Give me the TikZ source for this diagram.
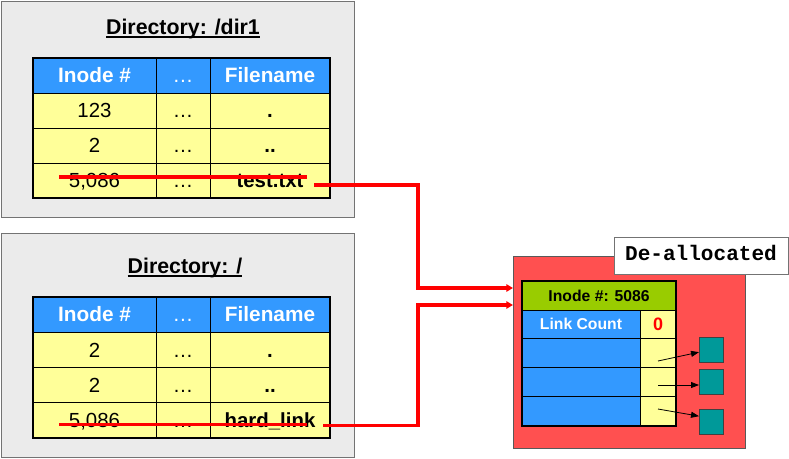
\documentclass[tikz,border=0pt]{standalone}
\usepackage{fontspec}
\setmainfont{Liberation Sans}
\setmonofont{Liberation Mono}
\usetikzlibrary{arrows.meta}
\definecolor{dirgray}{HTML}{EBEBEB}
\definecolor{hdrblue}{HTML}{3399FF}
\definecolor{rowyellow}{HTML}{FFFF99}
\definecolor{inogreen}{HTML}{99CC00}
\definecolor{boxred}{HTML}{FF5050}
\definecolor{blockteal}{HTML}{009999}
\definecolor{linkred}{HTML}{FF0000}
\newcommand\bx[7]{%
  \pgfmathsetmacro\bxw{(#4-#2)*0.75}%
  \pgfmathsetmacro\bxh{(#5-#3)*0.75}%
  \node[#6, minimum width=\bxw pt, minimum height=\bxh pt] (#1) at ({(#2+#4)/2},{(#3+#5)/2}) {#7};}
\begin{document}
\begin{tikzpicture}[x=0.75pt,y=-0.75pt,
  every node/.style={inner sep=0pt, outer sep=0pt},
  dirbox/.style={fill=dirgray, draw=black!55, line width=0.75pt},
  tfont/.style={font=\fontsize{15.3}{18}\selectfont, text height=11pt, text depth=0pt},
  hdrcell/.style={tfont, fill=hdrblue, draw=black, line width=0.75pt, text=white, font=\fontsize{15.6}{18}\selectfont\bfseries},
  rowcell/.style={tfont, fill=rowyellow, draw=black, line width=0.75pt},
  namecell/.style={rowcell, font=\fontsize{15.3}{18}\selectfont\bfseries},
  tblframe/.style={draw=black, line width=1.8pt},
  dirtitle/.style={anchor=base, font=\fontsize{16}{19}\selectfont\bfseries},
  uline/.style={draw=black, line width=1pt},
  strike/.style={draw=linkred, line width=2.3pt},
  conn/.style={draw=linkred, line width=2.4pt, -{Triangle[length=5pt,width=5.5pt]}},
  redboxst/.style={fill=boxred, draw=black!65, line width=0.75pt},
  ifont/.style={font=\fontsize{11.8}{14}\selectfont\bfseries},
  inohdr/.style={ifont, fill=inogreen, draw=black, line width=0.75pt},
  inoblue/.style={ifont, fill=hdrblue, draw=black, line width=0.75pt, text=white},
  inoyel/.style={ifont, fill=rowyellow, draw=black, line width=0.75pt},
  zerost/.style={inoyel, text=linkred, font=\fontsize{13.5}{16}\selectfont\bfseries},
  blockst/.style={fill=blockteal, draw=black!75, line width=0.75pt},
  smallarr/.style={draw=black, line width=0.6pt, -{Triangle[length=6pt,width=4.5pt]}},
  deallocst/.style={fill=white, draw=black!55, line width=0.75pt, font=\fontsize{15.8}{18}\selectfont\ttfamily\bfseries}
]
\fill[white] (0,0) rectangle (789,458);
\useasboundingbox (0,0) rectangle (789,458);

% ---------- Directory /dir1 ----------
\bx{dir1}{1}{1}{354}{217}{dirbox}{}
\node[dirtitle] (t1title) at (183,34.3) {Directory: /dir1};
\draw[uline] ([yshift=-2pt]t1title.base west) -- ([yshift=-2pt]t1title.base east);
\bx{ah1}{33}{58}{156}{93}{hdrcell}{Inode \#}
\bx{ah2}{156}{58}{210}{93}{hdrcell}{\mdseries …}
\bx{ah3}{210}{58}{330}{93}{hdrcell}{Filename}
\bx{aa1}{33}{93}{156}{128}{rowcell}{123}
\bx{aa2}{156}{93}{210}{128}{rowcell}{…}
\bx{aa3}{210}{93}{330}{128}{namecell}{.}
\bx{ab1}{33}{128}{156}{163}{rowcell}{2}
\bx{ab2}{156}{128}{210}{163}{rowcell}{…}
\bx{ab3}{210}{128}{330}{163}{namecell}{..}
\bx{ac1}{33}{163}{156}{198}{rowcell}{5,086}
\bx{ac2}{156}{163}{210}{198}{rowcell}{…}
\bx{ac3}{210}{163}{330}{198}{namecell}{test.txt}
\bx{aframe}{33}{58}{330}{198}{tblframe}{}

% ---------- Directory / ----------
\bx{dir2}{1}{233}{354}{457}{dirbox}{}
\node[dirtitle] (t2title) at (185,273.3) {Directory: /};
\draw[uline] ([yshift=-2pt]t2title.base west) -- ([yshift=-2pt]t2title.base east);
\bx{bh1}{33}{297}{156}{332.25}{hdrcell}{Inode \#}
\bx{bh2}{156}{297}{210}{332.25}{hdrcell}{\mdseries …}
\bx{bh3}{210}{297}{330}{332.25}{hdrcell}{Filename}
\bx{ba1}{33}{332.25}{156}{367.5}{rowcell}{2}
\bx{ba2}{156}{332.25}{210}{367.5}{rowcell}{…}
\bx{ba3}{210}{332.25}{330}{367.5}{namecell}{.}
\bx{bb1}{33}{367.5}{156}{402.75}{rowcell}{2}
\bx{bb2}{156}{367.5}{210}{402.75}{rowcell}{…}
\bx{bb3}{210}{367.5}{330}{402.75}{namecell}{..}
\bx{bc1}{33}{402.75}{156}{438}{rowcell}{5,086}
\bx{bc2}{156}{402.75}{210}{438}{rowcell}{…}
\bx{bc3}{210}{402.75}{330}{438}{namecell}{hard\_link}
\bx{bframe}{33}{297}{330}{438}{tblframe}{}

% ---------- Inode ----------
\bx{redbox}{513}{256}{745}{448}{redboxst}{}
\bx{ih}{522}{281}{676}{310}{inohdr}{Inode \#: 5086}
\bx{ilc}{522}{310}{640}{338.5}{inoblue}{Link Count}
\bx{ilv}{640}{310}{676}{338.5}{zerost}{0}
\bx{ib1}{522}{338.5}{640}{367.5}{inoblue}{}
\bx{iy1}{640}{338.5}{676}{367.5}{inoyel}{}
\bx{ib2}{522}{367.5}{640}{396.5}{inoblue}{}
\bx{iy2}{640}{367.5}{676}{396.5}{inoyel}{}
\bx{ib3}{522}{396.5}{640}{426}{inoblue}{}
\bx{iy3}{640}{396.5}{676}{426}{inoyel}{}
\bx{iframe}{522}{281}{676}{426}{tblframe}{}

\bx{blk1}{699}{337}{723}{362}{blockst}{}
\bx{blk2}{699}{369}{723}{394}{blockst}{}
\bx{blk3}{699}{409}{723}{434}{blockst}{}
\coordinate (p1) at (658,361);
\coordinate (p2) at (658,385);
\coordinate (p3) at (658,409);
\draw[smallarr] (p1) -- ([yshift=-2pt]blk1.west);
\draw[smallarr] (p2) -- (blk2.west |- p2);
\draw[smallarr] (p3) -- ([yshift=4pt]blk3.west);

\bx{dealloc}{614}{237}{788}{274}{deallocst}{\raisebox{3.5pt}{De-allocated}}

% ---------- Links ----------
\coordinate (s1a) at (59,177);
\coordinate (s1b) at (307,177);
\coordinate (s2a) at (59,424.5);
\coordinate (s2b) at (307,424.5);
\draw[strike] (s1a) -- (s1b);
\draw[strike] (s2a) -- (s2b);
\coordinate (c1) at (314,185);
\coordinate (k1) at (418,288);
\coordinate (c2) at (323,425.5);
\coordinate (k2) at (418,305);
\draw[conn] (c1) -| (k1) -- (k1 -| redbox.west);
\draw[conn] (c2) -| (k2) -- (k2 -| redbox.west);
\end{tikzpicture}
\end{document}
